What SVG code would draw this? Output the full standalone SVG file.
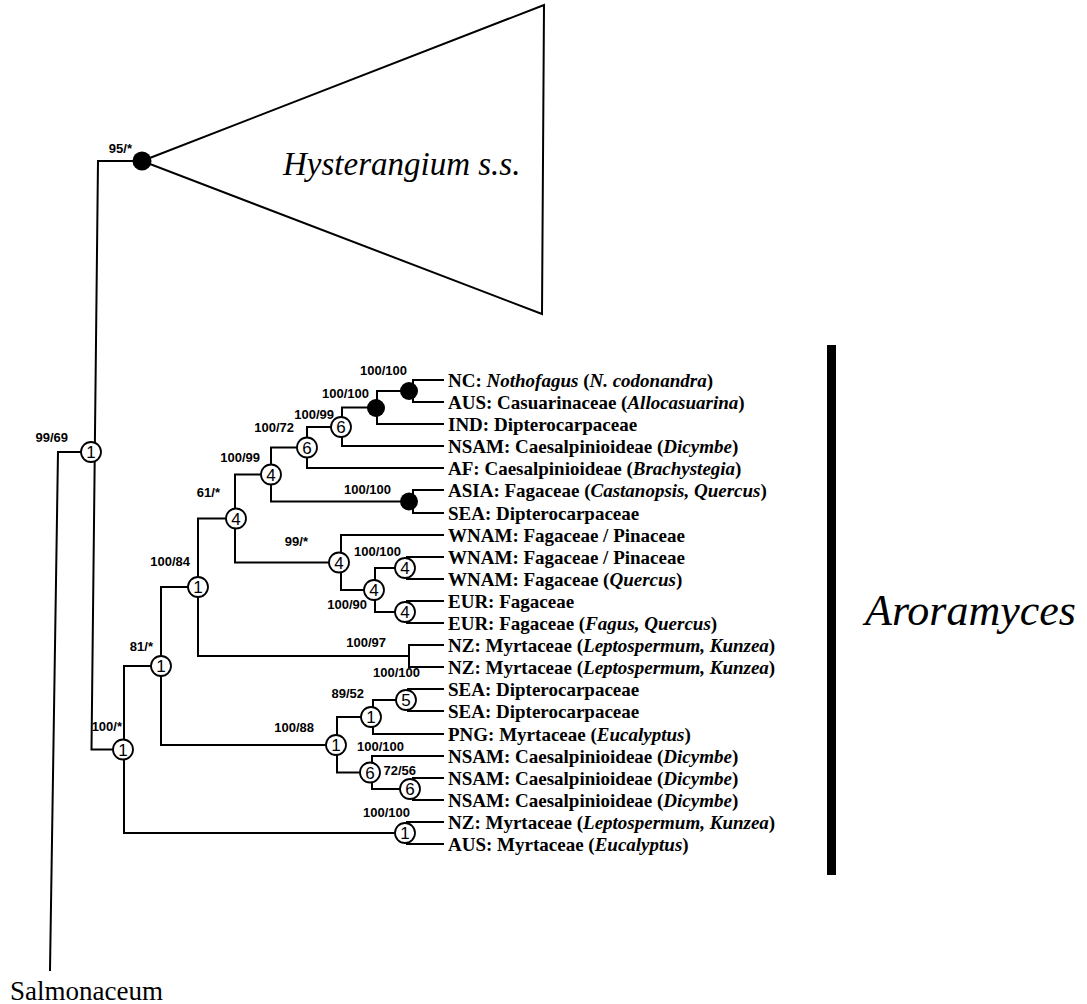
<svg xmlns="http://www.w3.org/2000/svg" width="1087" height="1004" viewBox="0 0 1087 1004">
  <style>
    .br { fill: none; stroke: #000; stroke-width: 2; stroke-linecap: square; }
    .ring { fill: #fff; stroke: #000; stroke-width: 1.8; }
    .dot { fill: #000; }
    .num { font-family: "Liberation Sans", Arial, sans-serif; font-size: 17px; text-anchor: middle; }
    .sup { font-family: "Liberation Sans", Arial, sans-serif; font-size: 13px; font-weight: bold; text-anchor: end; }
    .leaf { font-family: "Liberation Serif", "Times New Roman", serif; font-size: 19px; font-weight: bold; }
    .it { font-style: italic; }
    .big { font-family: "Liberation Serif", "Times New Roman", serif; font-style: italic; }
  </style>
  <rect width="1087" height="1004" fill="#fff"/>

  <!-- branches of the tree -->
  <g id="connectors" class="br">
    <path d="M58,452 L50,970 M58,452H82"/>
    <path d="M98,161 L91.5,749.5 M98,161H142 M91.5,749.5H124"/>
    <path d="M124,666V833 M124,666H161 M124,833H407"/>
    <path d="M161,587V745 M161,587H198 M161,745H337"/>
    <path d="M198,518.5V656 M198,518.5H235 M198,656H409"/>
    <path d="M235,474.5V562.5 M235,474.5H271 M235,562.5H341"/>
    <path d="M271,447.5V501.5 M271,447.5H307 M271,501.5H413"/>
    <path d="M307,427V468 M307,427H342 M307,468H443"/>
    <path d="M342,407.5V446 M342,407.5H377 M342,446H443"/>
    <path d="M377,391V424 M377,391H413 M377,424H443"/>
    <path d="M413,380V402 M413,380H443 M413,402H443"/>
    <path d="M413,490V513 M413,490H443 M413,513H443"/>
    <path d="M341,535V590 M341,535H443 M341,590H375"/>
    <path d="M375,568V612 M375,568H407 M375,612H407"/>
    <path d="M407,557V579 M407,557H443 M407,579H443"/>
    <path d="M407,601V623 M407,601H443 M407,623H443"/>
    <path d="M409,645V667 M409,645H443 M409,667H443"/>
    <path d="M337,717V772.5 M337,717H373 M337,772.5H372"/>
    <path d="M373,700V734 M373,700H408 M373,734H443"/>
    <path d="M408,689V711 M408,689H443 M408,711H443"/>
    <path d="M372,756V789 M372,756H443 M372,789H413"/>
    <path d="M413,778V800 M413,778H443 M413,800H443"/>
    <path d="M407,822V844 M407,822H443 M407,844H443"/>
    <!-- collapsed Hysterangium clade -->
    <path d="M142,161 L544,5 L542,314 Z"/>
  </g>

  <!-- collapsed clade -->
  <g id="hysterangium">
    <circle class="dot" cx="142" cy="161" r="9.5"/>
    <text class="sup" x="132" y="153">95/*</text>
    <text class="big" x="283" y="175" font-size="33">Hysterangium s.s.</text>
  </g>

  <!-- internal nodes -->
  <g id="n-root"><circle class="ring" cx="91" cy="452" r="10"/><text class="num" x="91" y="458">1</text><text class="sup" x="68" y="442">99/69</text></g>
  <g id="n-1c"><circle class="ring" cx="123" cy="749.5" r="10"/><text class="num" x="123" y="755.5">1</text><text class="sup" x="122" y="731">100/*</text></g>
  <g id="n-1b"><circle class="ring" cx="161" cy="666" r="10"/><text class="num" x="161" y="672">1</text><text class="sup" x="153" y="651">81/*</text></g>
  <g id="n-1a"><circle class="ring" cx="198" cy="587" r="10"/><text class="num" x="198" y="593">1</text><text class="sup" x="190" y="566">100/84</text></g>
  <g id="n-4b"><circle class="ring" cx="236" cy="518.5" r="10"/><text class="num" x="236" y="524.5">4</text><text class="sup" x="220" y="497">61/*</text></g>
  <g id="n-4a"><circle class="ring" cx="271" cy="474.5" r="10"/><text class="num" x="271" y="480.5">4</text><text class="sup" x="260" y="462">100/99</text></g>
  <g id="n-6b"><circle class="ring" cx="307" cy="447.5" r="10"/><text class="num" x="307" y="453.5">6</text><text class="sup" x="294" y="432">100/72</text></g>
  <g id="n-6a"><circle class="ring" cx="341" cy="427" r="10"/><text class="num" x="341" y="433">6</text><text class="sup" x="334" y="419">100/99</text></g>
  <g id="n-b"><circle class="dot" cx="376" cy="408" r="9"/><text class="sup" x="369" y="398">100/100</text></g>
  <g id="n-a"><circle class="dot" cx="409" cy="391" r="9"/><text class="sup" x="407" y="375">100/100</text></g>
  <g id="n-c"><circle class="dot" cx="409" cy="501.5" r="9"/><text class="sup" x="391" y="494">100/100</text></g>
  <g id="n-4c"><circle class="ring" cx="339" cy="562.5" r="10"/><text class="num" x="339" y="568.5">4</text><text class="sup" x="308" y="546">99/*</text></g>
  <g id="n-4d"><circle class="ring" cx="374" cy="590" r="10"/><text class="num" x="374" y="596">4</text><text class="sup" x="367" y="609">100/90</text></g>
  <g id="n-4e"><circle class="ring" cx="405" cy="568" r="10"/><text class="num" x="405" y="574">4</text><text class="sup" x="401" y="556">100/100</text></g>
  <g id="n-4f"><circle class="ring" cx="405" cy="612" r="10"/><text class="num" x="405" y="618">4</text></g>
  <g id="n-nz"><text class="sup" x="386" y="647">100/97</text></g>
  <g id="n-1e"><circle class="ring" cx="336" cy="745" r="10"/><text class="num" x="336" y="751">1</text><text class="sup" x="314" y="732">100/88</text></g>
  <g id="n-1d"><circle class="ring" cx="371" cy="717" r="10"/><text class="num" x="371" y="723">1</text><text class="sup" x="364" y="698">89/52</text></g>
  <g id="n-5"><circle class="ring" cx="406" cy="700" r="10"/><text class="num" x="406" y="706">5</text><text class="sup" x="420" y="677">100/100</text></g>
  <g id="n-6c"><circle class="ring" cx="370" cy="772.5" r="10"/><text class="num" x="370" y="778.5">6</text><text class="sup" x="404" y="751">100/100</text></g>
  <g id="n-6d"><circle class="ring" cx="410" cy="789" r="10"/><text class="num" x="410" y="795">6</text><text class="sup" x="416" y="775">72/56</text></g>
  <g id="n-1f"><circle class="ring" cx="405" cy="833" r="10"/><text class="num" x="405" y="839">1</text><text class="sup" x="410" y="817">100/100</text></g>

  <!-- terminal taxa -->
  <g id="leaves" class="leaf">
    <g id="t01"><text x="448" y="386.5">NC: <tspan class="it">Nothofagus</tspan> (<tspan class="it">N. codonandra</tspan>)</text></g>
    <g id="t02"><text x="448" y="408.5">AUS: Casuarinaceae (<tspan class="it">Allocasuarina</tspan>)</text></g>
    <g id="t03"><text x="448" y="430.5">IND: Dipterocarpaceae</text></g>
    <g id="t04"><text x="448" y="452.5">NSAM: Caesalpinioideae (<tspan class="it">Dicymbe</tspan>)</text></g>
    <g id="t05"><text x="448" y="474.5">AF: Caesalpinioideae (<tspan class="it">Brachystegia</tspan>)</text></g>
    <g id="t06"><text x="448" y="496.5">ASIA: Fagaceae (<tspan class="it">Castanopsis, Quercus</tspan>)</text></g>
    <g id="t07"><text x="448" y="519.5">SEA: Dipterocarpaceae</text></g>
    <g id="t08"><text x="448" y="541.5">WNAM: Fagaceae / Pinaceae</text></g>
    <g id="t09"><text x="448" y="563.5">WNAM: Fagaceae / Pinaceae</text></g>
    <g id="t10"><text x="448" y="585.5">WNAM: Fagaceae (<tspan class="it">Quercus</tspan>)</text></g>
    <g id="t11"><text x="448" y="607.5">EUR: Fagaceae</text></g>
    <g id="t12"><text x="448" y="629.5">EUR: Fagaceae (<tspan class="it">Fagus, Quercus</tspan>)</text></g>
    <g id="t13"><text x="448" y="651.5">NZ: Myrtaceae (<tspan class="it">Leptospermum, Kunzea</tspan>)</text></g>
    <g id="t14"><text x="448" y="673.5">NZ: Myrtaceae (<tspan class="it">Leptospermum, Kunzea</tspan>)</text></g>
    <g id="t15"><text x="448" y="695.5">SEA: Dipterocarpaceae</text></g>
    <g id="t16"><text x="448" y="717.5">SEA: Dipterocarpaceae</text></g>
    <g id="t17"><text x="448" y="740.5">PNG: Myrtaceae (<tspan class="it">Eucalyptus</tspan>)</text></g>
    <g id="t18"><text x="448" y="762.5">NSAM: Caesalpinioideae (<tspan class="it">Dicymbe</tspan>)</text></g>
    <g id="t19"><text x="448" y="784.5">NSAM: Caesalpinioideae (<tspan class="it">Dicymbe</tspan>)</text></g>
    <g id="t20"><text x="448" y="806.5">NSAM: Caesalpinioideae (<tspan class="it">Dicymbe</tspan>)</text></g>
    <g id="t21"><text x="448" y="828.5">NZ: Myrtaceae (<tspan class="it">Leptospermum, Kunzea</tspan>)</text></g>
    <g id="t22"><text x="448" y="850.5">AUS: Myrtaceae (<tspan class="it">Eucalyptus</tspan>)</text></g>
  </g>

  <!-- Aroramyces bracket -->
  <g id="aroramyces">
    <rect x="827" y="345" width="9" height="530" fill="#000"/>
    <text class="big" x="865" y="625" font-size="44">Aroramyces</text>
  </g>

  <!-- outgroup -->
  <g id="salmonaceum">
    <text x="10" y="1000" font-family="Liberation Serif, 'Times New Roman', serif" font-size="27">Salmonaceum</text>
  </g>
</svg>
